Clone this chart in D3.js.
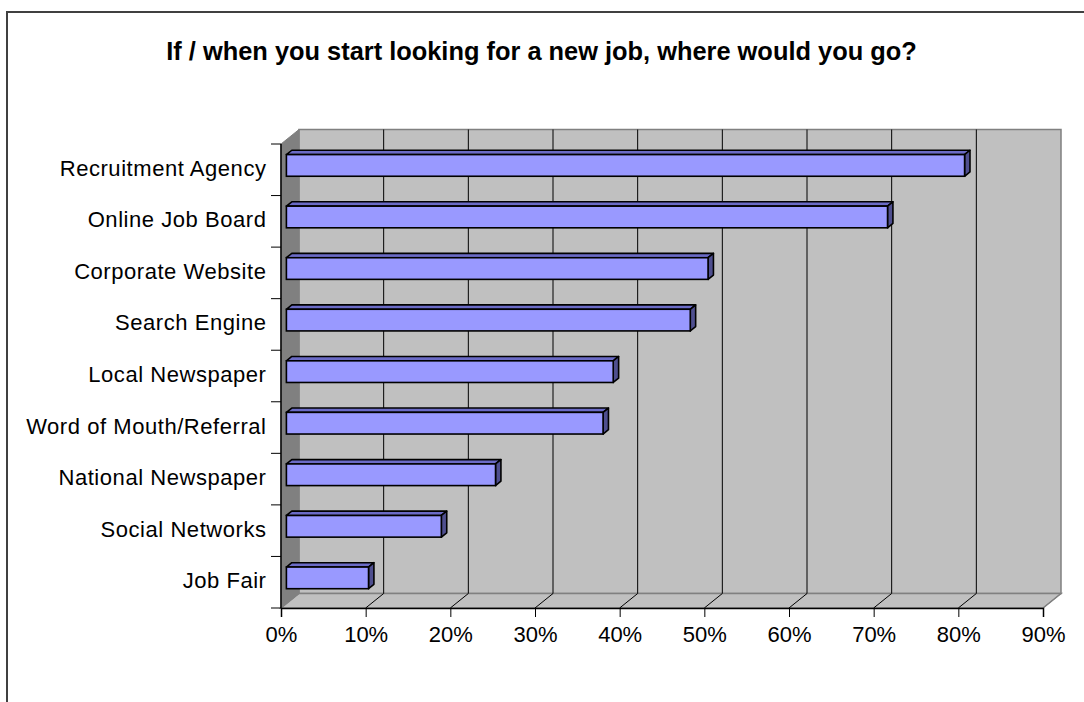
<!DOCTYPE html>
<html>
<head>
<meta charset="utf-8">
<script src="https://cdn.jsdelivr.net/npm/d3@7"></script>
<style>
  html, body { margin: 0; padding: 0; background: #ffffff; }
  svg { display: block; font-family: "Liberation Sans", Arial, sans-serif; }
</style>
</head>
<body>
<svg id="chart" width="1084" height="702"></svg>
<script>
// Survey answers, share of respondents
const categories = [
  "Recruitment Agency",
  "Online Job Board",
  "Corporate Website",
  "Search Engine",
  "Local Newspaper",
  "Word of Mouth/Referral",
  "National Newspaper",
  "Social Networks",
  "Job Fair"
];
const values = [0.801, 0.710, 0.498, 0.477, 0.386, 0.374, 0.247, 0.183, 0.097];
const tickValues = [0, 0.1, 0.2, 0.3, 0.4, 0.5, 0.6, 0.7, 0.8, 0.9];
const titleText = "If / when you start looking for a new job, where would you go?";

const svg = d3.select("#chart");

// Front plane of the 3D plot box and the depth offset to its back plane
const plotLeft = 281, plotRight = 1043, plotTop = 144, plotBottom = 608;
const depth = { dx: 18, dy: -14.5 };
const barDepthStart = 0.3, barDepthEnd = 0.6;

const x = d3.scaleLinear().domain([0, 0.9]).range([plotLeft, plotRight]);
const y = d3.scaleBand().domain(categories).range([plotTop, plotBottom]).paddingInner(0);

// Outer chart border
svg.append("rect")
  .attr("x", 7).attr("y", 12).attr("width", 1110).attr("height", 730)
  .attr("fill", "none").attr("stroke", "#404040").attr("stroke-width", 2);

// Title
svg.append("text")
  .attr("x", 541.5).attr("y", 60)
  .attr("text-anchor", "middle")
  .attr("font-size", 25.4).attr("font-weight", "bold")
  .attr("fill", "#000")
  .text(titleText);

const pts = arr => arr.map(p => p.join(",")).join(" ");

// Back wall
svg.append("polygon")
  .attr("points", pts([
    [plotLeft + depth.dx, plotTop + depth.dy],
    [plotRight + depth.dx, plotTop + depth.dy],
    [plotRight + depth.dx, plotBottom + depth.dy],
    [plotLeft + depth.dx, plotBottom + depth.dy]
  ]))
  .attr("fill", "#c0c0c0").attr("stroke", "#808080").attr("stroke-width", 1.5);

// Floor
svg.append("polygon")
  .attr("points", pts([
    [plotLeft, plotBottom],
    [plotLeft + depth.dx, plotBottom + depth.dy],
    [plotRight + depth.dx, plotBottom + depth.dy],
    [plotRight, plotBottom]
  ]))
  .attr("fill", "#c0c0c0").attr("stroke", "#808080").attr("stroke-width", 1.5);

// Left side wall
svg.append("polygon")
  .attr("points", pts([
    [plotLeft, plotTop],
    [plotLeft + depth.dx, plotTop + depth.dy],
    [plotLeft + depth.dx, plotBottom + depth.dy],
    [plotLeft, plotBottom]
  ]))
  .attr("fill", "#808080").attr("stroke", "#808080").attr("stroke-width", 1);

// Vertical gridlines on the back wall and their diagonals across the floor
const gridTicks = tickValues.filter(t => t > 0 && t < 0.9);
svg.append("g").selectAll("line")
  .data(gridTicks).join("line")
  .attr("x1", d => x(d) + depth.dx).attr("x2", d => x(d) + depth.dx)
  .attr("y1", plotTop + depth.dy).attr("y2", plotBottom + depth.dy)
  .attr("stroke", "#000").attr("stroke-width", 1);
svg.append("g").selectAll("line")
  .data(tickValues.filter(t => t > 0)).join("line")
  .attr("x1", d => x(d)).attr("y1", plotBottom)
  .attr("x2", d => x(d) + depth.dx).attr("y2", plotBottom + depth.dy)
  .attr("stroke", d => d < 0.9 ? "#000" : "#808080").attr("stroke-width", 1);

// Bottom axis
const xAxis = d3.axisBottom(x)
  .tickValues(tickValues)
  .tickFormat(d3.format(".0%"))
  .tickSize(9)
  .tickPadding(9);
const gx = svg.append("g").attr("transform", `translate(0,${plotBottom})`).call(xAxis);
gx.select(".domain").attr("stroke", "#000").attr("stroke-width", 1.5);
gx.selectAll(".tick line").attr("stroke", "#000").attr("stroke-width", 1);
gx.selectAll(".tick text")
  .attr("font-size", 22).attr("font-family", "Liberation Sans, Arial, sans-serif")
  .attr("fill", "#000").attr("dy", "0.71em");

// Left axis with ticks at category boundaries
const boundaries = categories.map(c => y(c)).concat([plotBottom]);
svg.append("line")
  .attr("x1", plotLeft).attr("x2", plotLeft).attr("y1", plotTop).attr("y2", plotBottom)
  .attr("stroke", "#000").attr("stroke-width", 1.5);
svg.append("g").selectAll("line")
  .data(boundaries).join("line")
  .attr("x1", plotLeft - 10).attr("x2", plotLeft)
  .attr("y1", d => d).attr("y2", d => d)
  .attr("stroke", "#000").attr("stroke-width", 1);
svg.append("g").selectAll("text")
  .data(categories).join("text")
  .attr("x", 266.5)
  .attr("y", d => y(d) + y.bandwidth() / 2 + 6)
  .attr("text-anchor", "end")
  .attr("font-size", 22).attr("letter-spacing", 0.55).attr("fill", "#000")
  .text(d => d);

// 3D bars: front face, top face and right end face
const thick = y.bandwidth() * 0.42;
const fdx = depth.dx * barDepthStart, fdy = depth.dy * barDepthStart;
const bdx = depth.dx * (barDepthEnd - barDepthStart), bdy = depth.dy * (barDepthEnd - barDepthStart);

const bars = svg.append("g").selectAll("g")
  .data(categories.map((c, i) => ({ c, v: values[i] }))).join("g");

bars.each(function(d) {
  const g = d3.select(this);
  const x0 = x(0) + fdx, x1 = x(d.v) + fdx;
  const yc = y(d.c) + y.bandwidth() / 2 + fdy;
  const y0 = yc - thick / 2, y1 = yc + thick / 2;
  // top face
  g.append("polygon")
    .attr("points", pts([[x0, y0], [x0 + bdx, y0 + bdy], [x1 + bdx, y0 + bdy], [x1, y0]]))
    .attr("fill", "#6b6bc6").attr("stroke", "#000").attr("stroke-width", 1.6)
    .attr("stroke-linejoin", "round");
  // end face
  g.append("polygon")
    .attr("points", pts([[x1, y0], [x1 + bdx, y0 + bdy], [x1 + bdx, y1 + bdy], [x1, y1]]))
    .attr("fill", "#4f4f8f").attr("stroke", "#000").attr("stroke-width", 1.6)
    .attr("stroke-linejoin", "round");
  // front face
  g.append("rect")
    .attr("x", x0).attr("y", y0).attr("width", x1 - x0).attr("height", thick)
    .attr("fill", "#9999ff").attr("stroke", "#000").attr("stroke-width", 1.6);
});
</script>
</body>
</html>
